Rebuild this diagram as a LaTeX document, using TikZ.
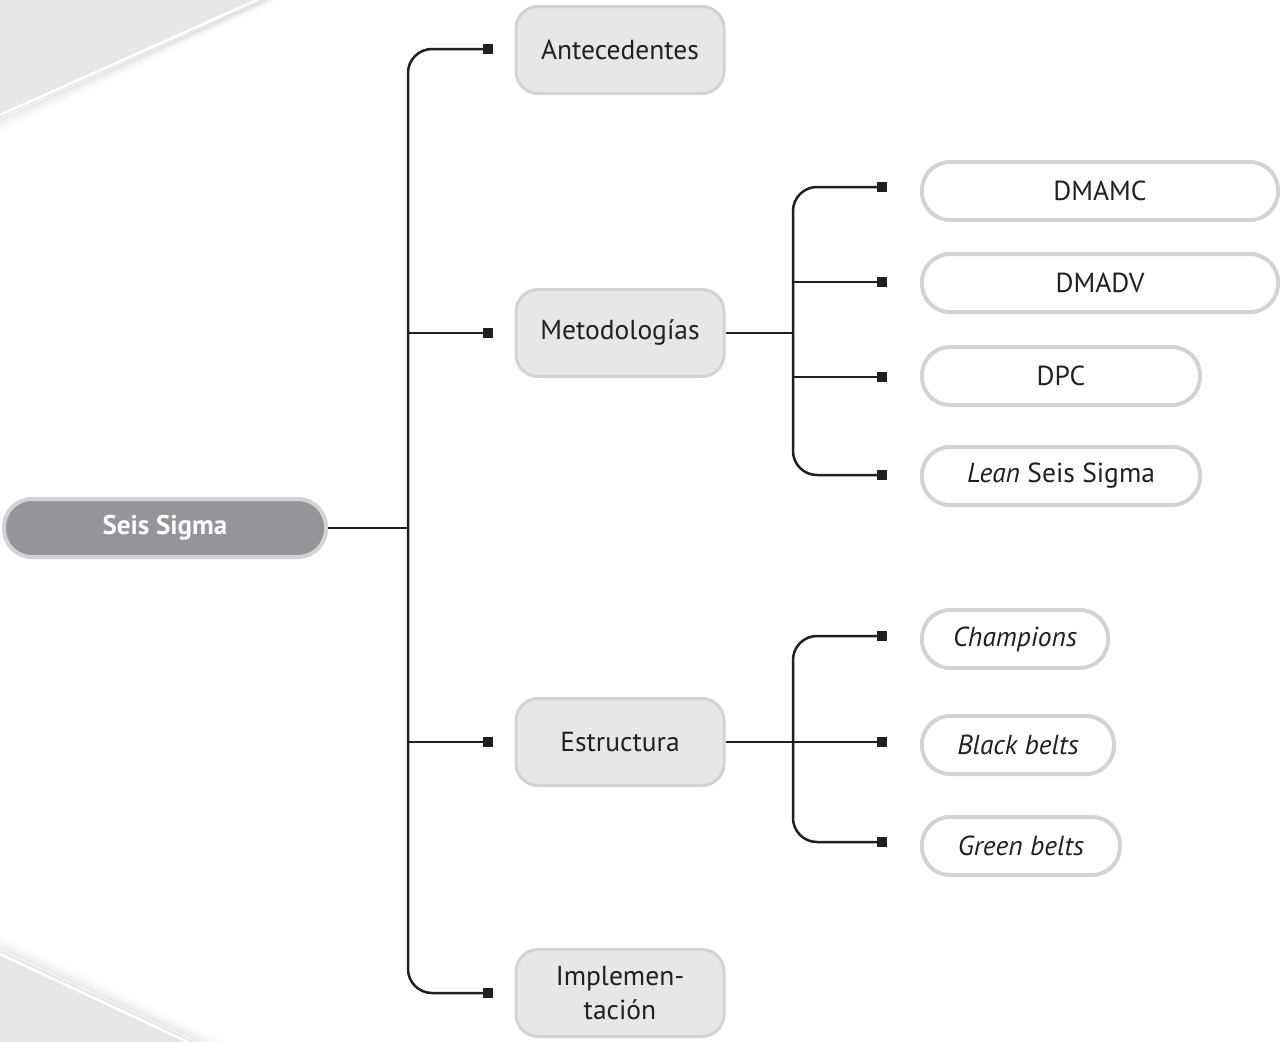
\documentclass[tikz,border=0pt]{standalone}
\usepackage{fontspec}
\setmainfont{PT Sans}
\usetikzlibrary{positioning}
\definecolor{bggray}{HTML}{E6E7E8}
\definecolor{rimgray}{HTML}{D1D3D4}
\definecolor{darkfill}{HTML}{939598}
\definecolor{ink}{HTML}{231F20}
\tikzset{
  rootbox/.style={draw=rimgray, line width=4pt, fill=darkfill, rounded corners=28pt,
    minimum width=322pt, minimum height=58pt, text=white, font=\fontsize{27}{32}\selectfont\bfseries, inner sep=0pt},
  firstbox/.style={draw=rimgray, line width=3pt, fill=bggray, rounded corners=22pt,
    minimum width=208pt, minimum height=87pt, text=ink, font=\fontsize{27.5}{34}\selectfont, inner sep=0pt, align=center},
  leafbox/.style={draw=rimgray, line width=4pt, fill=white, rounded corners=28pt,
    minimum height=58pt, text=ink, font=\fontsize{27.5}{32}\selectfont, inner sep=0pt},
  sqmark/.style={fill=ink, draw=none, minimum size=10pt, inner sep=0pt},
  conn/.style={draw=ink, line width=2.5pt},
}
\begin{document}
\begin{tikzpicture}[x=1pt,y=-1pt]
\useasboundingbox (0,0) rectangle (1286,1042);
% background corners
\fill[bggray] (0,0) -- (262,0) -- (0,118) -- cycle;
\foreach \i/\o in {1/0.07,2/0.055,3/0.04,4/0.03,5/0.02,6/0.013,7/0.008,8/0.004}{
  \draw[black, opacity=\o, line width=2pt] (262+2*\i,0) -- (0,118+2*\i);
}
\draw[white, line width=2.5pt] (257,0) -- (0,115);
\fill[bggray] (0,950) -- (196,1042) -- (0,1042) -- cycle;
\foreach \i/\o in {1/0.07,2/0.055,3/0.04,4/0.03,5/0.02,6/0.013,7/0.008,8/0.004}{
  \draw[black, opacity=\o, line width=2pt] (0,950-2*\i) -- (196+4*\i,1042);
}
\draw[white, line width=2.5pt] (0,954) -- (188,1042);

% nodes
\node[rootbox] (seis) at (165,528) {Seis Sigma};
\node[firstbox] (ante) at (620,50) {Antecedentes};
\node[firstbox] (meto) at (620,333) {Metodologías};
\node[firstbox] (estr) at (620,742) {Estructura};
\node[firstbox] (impl) at (620,993) {Implemen-\\tación};

\node[leafbox, minimum width=356pt] (dmamc) at (1100,191) {DMAMC};
\node[leafbox, minimum width=356pt] (dmadv) at (1100,283) {DMADV};
\node[leafbox, minimum width=278pt] (dpc) at (1061,376) {DPC};
\node[leafbox, minimum width=278pt] (lean) at (1061,476) {\textit{Lean} Seis Sigma};

\node[leafbox, minimum width=186pt] (champ) at (1015,639) {\textit{Champions}};
\node[leafbox, minimum width=192pt] (black) at (1018,745) {\textit{Black belts}};
\node[leafbox, minimum width=198pt] (green) at (1021,846) {\textit{Green belts}};

% square markers
\node[sqmark] (s1) at (488,49) {};
\node[sqmark] (s2) at (488,333) {};
\node[sqmark] (s3) at (488,742) {};
\node[sqmark] (s4) at (488,993) {};

\node[sqmark] (m1) at (882,187) {};
\node[sqmark] (m2) at (882,282) {};
\node[sqmark] (m3) at (882,377) {};
\node[sqmark] (m4) at (882,475) {};

\node[sqmark] (e1) at (882,636) {};
\node[sqmark] (e2) at (882,742) {};
\node[sqmark] (e3) at (882,842) {};

% bus coordinates
\coordinate (busA) at (408,528);
\coordinate (busB) at (793,333);
\coordinate (busC) at (793,742);

% main bus
\draw[conn, rounded corners=24pt] (s1.center) -| (busA) |- (s4.center);
\draw[conn] (seis.east) -- (busA);
\draw[conn] (busA |- s2) -- (s2.center);
\draw[conn] (busA |- s3) -- (s3.center);

% methodologies bus
\draw[conn, rounded corners=24pt] (m1.center) -| (busB) |- (m4.center);
\draw[conn] (meto.east) -- (busB);
\draw[conn] (busB |- m2) -- (m2.center);
\draw[conn] (busB |- m3) -- (m3.center);

% structure bus
\draw[conn, rounded corners=24pt] (e1.center) -| (busC) |- (e3.center);
\draw[conn] (estr.east) -- (e2.center);
\end{tikzpicture}
\end{document}
